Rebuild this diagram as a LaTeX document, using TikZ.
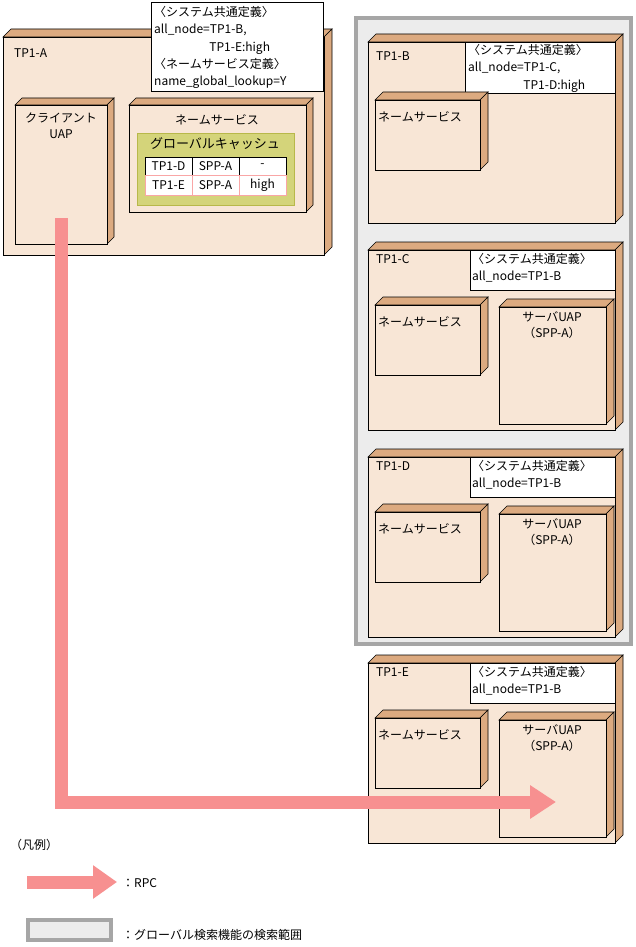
\documentclass[tikz,border=0pt]{standalone}
\usepackage{fontspec}
\setmainfont{Noto Sans CJK JP}
\usetikzlibrary{arrows.meta}
\definecolor{front}{HTML}{F8E6D6}
\definecolor{side}{HTML}{DCAA80}
\definecolor{cache}{HTML}{D4D47A}
\definecolor{cacheb}{HTML}{B8B84A}
\definecolor{rpc}{HTML}{F79090}
\newcommand\cube[5]{%
 \fill[side,draw=black,line width=0.6] (#1,#2)--++(#5,-#5)--(#3+#5,#2-#5)--(#3,#2)--cycle;
 \fill[side,draw=black,line width=0.6] (#3,#2)--(#3+#5,#2-#5)--(#3+#5,#4-#5)--(#3,#4)--cycle;
 \fill[front,draw=black,line width=0.6] (#1,#2) rectangle (#3,#4);}
\tikzset{txt/.style={anchor=north west,inner sep=0,font=\fontsize{12}{16}\selectfont,align=left},
 ntxt/.style={anchor=north west,inner sep=0,font=\fontsize{12}{17.4}\selectfont,align=left},
 ctxt/.style={anchor=north,inner sep=0,font=\fontsize{12}{16}\selectfont,align=center},
 cell/.style={inner sep=0,font=\fontsize{12}{14}\selectfont},
 note/.style={fill=white,draw=black,line width=0.6}}
\begin{document}
\begin{tikzpicture}[x=1pt,y=-1pt]
\useasboundingbox (0,0) rectangle (636,947);
\fill[white] (0,0) rectangle (636,947);
% gray region
\fill[gray!15,draw=gray!70,line width=3.5] (356,18) rectangle (631,644);
% TP1-A
\cube{3}{37}{324}{255}{8}
\node[txt] (ta) at (14,49) {TP1-A};
\draw[note] (151,2) rectangle (323,91);
\node[ntxt] (na) at (154,6) {〈システム共通定義〉\\all\_node=TP1-B,\\\hspace*{4.6em}TP1-E:high\\〈ネームサービス定義〉\\name\_global\_lookup=Y};
\cube{15}{105}{107}{244}{7}
\node[ctxt] (cu) at (61,113) {クライアント\\UAP};
\cube{129}{105}{306}{212}{7}
\node[ctxt] (nsa) at (217,114) {ネームサービス};
\fill[cache,draw=cacheb,line width=0.8] (137,133) rectangle (294,205);
\node[ctxt,font=\fontsize{13}{16}\selectfont] (gc) at (215,137) {グローバルキャッシュ};
\fill[white] (145,157) rectangle (286,195);
\draw[black,line width=0.6] (145,157) rectangle (286,175);
\draw[black,line width=0.6] (192,157)--(192,175) (239,157)--(239,175);
\draw[rpc!80,line width=0.8] (145,175) rectangle (286,195) (192,175)--(192,195) (239,175)--(239,195);
\node[cell] (c11) at (168.5,166) {TP1-D};
\node[cell] (c12) at (215.5,166) {SPP-A};
\node[cell] (c13) at (262.5,166) {-};
\node[cell] (c21) at (168.5,185) {TP1-E};
\node[cell] (c22) at (215.5,185) {SPP-A};
\node[cell] (c23) at (262.5,185) {high};
% TP1-B
\cube{368}{42}{615}{223}{8}
\node[txt] (tb) at (376,52) {TP1-B};
\draw[note] (465,42) rectangle (615,93);
\node[ntxt] (nb) at (468,44) {〈システム共通定義〉\\all\_node=TP1-C,\\\hspace*{4.6em}TP1-D:high};
\cube{375}{100}{480}{170}{8}
\node[txt] (nsb) at (378,111) {ネームサービス};
% TP1-C D E
\foreach \y/\n in {250/C,457/D,663/E}{
 \cube{368}{\y}{615}{\y+180}{8}
 \node[txt] (t\n) at (376,\y+4) {TP1-\n};
 \draw[note] (470,\y) rectangle (615,\y+40);
 \node[ntxt] (n\n) at (472,\y+3) {〈システム共通定義〉\\all\_node=TP1-B};
 \cube{375}{\y+55}{480}{\y+125}{8}
 \node[txt] (ns\n) at (378,\y+66) {ネームサービス};
 \cube{499}{\y+57}{606}{\y+174}{8}
 \node[ctxt] (s\n) at (552,\y+61) {サーバUAP\\（SPP-A）};
}
% RPC arrow
\coordinate (a0) at (61,218);
\coordinate (a1) at (61,802);
\coordinate (a2) at (556,802);
\draw[rpc,line width=13,-{Triangle[width=32,length=26]}] (a0)--(a1)--(a2);
% legend
\node[txt] (lg) at (10,839) {（凡例）};
\coordinate (l0) at (27,882);\coordinate (l1) at (117,882);
\draw[rpc,line width=13,-{Triangle[width=32,length=24]}] (l0)--(l1);
\node[txt] (lr) at (122,878) {：RPC};
\fill[gray!15,draw=gray!70,line width=3.5] (28,920) rectangle (111,940);
\node[txt] (lgr) at (122,929) {：グローバル検索機能の検索範囲};
\end{tikzpicture}
\end{document}
